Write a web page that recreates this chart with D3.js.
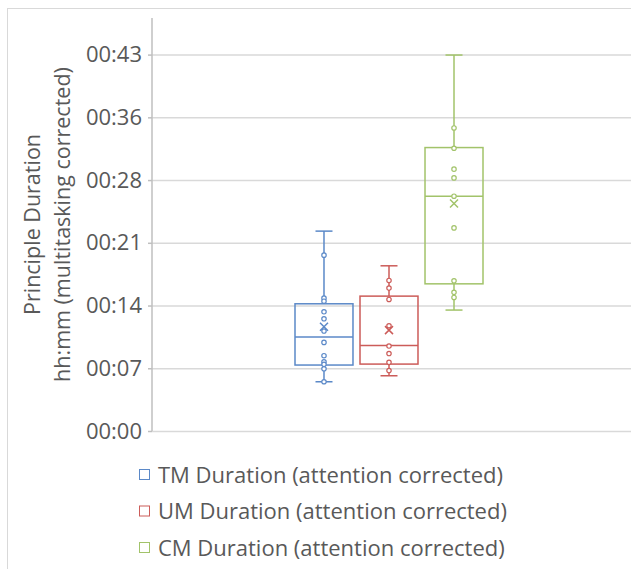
<!DOCTYPE html>
<html>
<head>
<meta charset="utf-8">
<script src="https://cdn.jsdelivr.net/npm/d3@7"></script>
<style>
  body { margin: 0; background: #fff; }
  svg { display: block; }
  text { font-family: "Open Sans", sans-serif; fill: #595959; }
</style>
</head>
<body>
<svg></svg>
<script>
// values in minutes
var series = ["TM Duration (attention corrected)", "UM Duration (attention corrected)", "CM Duration (attention corrected)"];
var colors = ["#5b89c8", "#cc5c59", "#a2c36a"];

var mins    = [5.65, 6.34, 13.88];
var q1s     = [7.57, 7.68, 16.89];
var medians = [10.78, 9.81, 26.95];
var q3s     = [14.6, 15.48, 32.53];
var maxs    = [22.94, 18.96, 43.15];
var means   = [11.96, 11.58, 26.11];

var tmPoints = [20.18, 15.25, 14.9, 13.68, 12.88, 11.47, 10.17, 8.64, 7.95, 7.65, 7.14, 5.65];
var umPoints = [17.28, 16.4, 15.1, 12.08, 9.75, 8.89, 7.88, 6.94];
var cmPoints = [34.78, 32.45, 30.05, 29.05, 26.95, 23.31, 17.24, 15.91, 15.33];
var points = [tmPoints, umPoints, cmPoints];

var tickValues = [0, 7.2, 14.4, 21.6, 28.8, 36, 43.2];
var tickLabels = ["00:00", "00:07", "00:14", "00:21", "00:28", "00:36", "00:43"];

var yTitle = ["Principle Duration", "hh:mm (multitasking corrected)"];

let width = 631;
let height = 569;
let svg = d3.select("svg").attr("width", width).attr("height", height);

let plot = { left: 152, right: 631, top: 18, bottom: 431 };

// chart border
svg.append("rect")
  .attr("x", 7.5).attr("y", 8.5)
  .attr("width", 800).attr("height", 800)
  .attr("fill", "none")
  .attr("stroke", "#d9d9d9");

let y = d3.scaleLinear().domain([0, 47.4]).range([plot.bottom, plot.top]);
let x = d3.scaleBand().domain(series).range([295, 483]).paddingInner(0.108);

// gridlines
svg.append("g")
  .attr("transform", `translate(${plot.left},0)`)
  .call(d3.axisRight(y).tickValues(tickValues).tickSize(plot.right - plot.left).tickFormat(""))
  .call(g => g.select(".domain").remove())
  .call(g => g.selectAll("line").attr("stroke", "#d9d9d9").attr("stroke-width", 1.5));

// y axis
let yAxis = svg.append("g")
  .attr("transform", `translate(${plot.left},0)`)
  .call(d3.axisLeft(y).tickValues(tickValues).tickSize(4).tickPadding(6)
    .tickFormat((d, i) => tickLabels[i]));
yAxis.select(".domain").attr("stroke", "#bfbfbf").attr("stroke-width", 1.5)
  .attr("d", `M0,${plot.top}V${plot.bottom}`);
yAxis.selectAll(".tick line").attr("stroke", "#bfbfbf").attr("stroke-width", 1.5);
yAxis.selectAll("text").attr("fill", "#595959").style("font-size", "22px")
  .attr("font-family", "Open Sans");

// axis title
svg.append("g")
  .attr("transform", `translate(0,${(plot.top + plot.bottom) / 2}) rotate(-90)`)
  .selectAll("text")
  .data(yTitle)
  .enter().append("text")
  .attr("x", 0)
  .attr("y", (d, i) => 40 + i * 30)
  .attr("text-anchor", "middle")
  .style("font-size", "21.5px")
  .text(d => d);

// boxes
let boxes = svg.append("g").attr("id", "boxes")
  .selectAll("g")
  .data(series)
  .enter().append("g");

let cx = d => x(d) + x.bandwidth() / 2;
let capW = 8.5;

boxes.each(function(d, i) {
  let g = d3.select(this);
  let c = cx(d);
  let col = colors[i];
  // whiskers
  g.append("line").attr("x1", c).attr("x2", c)
    .attr("y1", y(maxs[i])).attr("y2", y(q3s[i]));
  g.append("line").attr("x1", c).attr("x2", c)
    .attr("y1", y(q1s[i])).attr("y2", y(mins[i]));
  g.append("line").attr("x1", c - capW).attr("x2", c + capW)
    .attr("y1", y(maxs[i])).attr("y2", y(maxs[i]));
  g.append("line").attr("x1", c - capW).attr("x2", c + capW)
    .attr("y1", y(mins[i])).attr("y2", y(mins[i]));
  // box
  g.append("rect")
    .attr("x", x(d)).attr("width", x.bandwidth())
    .attr("y", y(q3s[i])).attr("height", y(q1s[i]) - y(q3s[i]))
    .attr("fill", "none");
  g.append("line").attr("x1", x(d)).attr("x2", x(d) + x.bandwidth())
    .attr("y1", y(medians[i])).attr("y2", y(medians[i]));
  // mean marker
  let my = y(means[i]);
  g.append("path")
    .attr("d", `M${c - 4},${my - 4}L${c + 4},${my + 4}M${c - 4},${my + 4}L${c + 4},${my - 4}`);
  // inner points
  g.selectAll("circle")
    .data(points[i])
    .enter().append("circle")
    .attr("cx", c)
    .attr("cy", v => y(v))
    .attr("r", 2.2)
    .attr("fill", "#fff")
    .attr("stroke-width", 1.2);
  g.selectAll("line, rect, path, circle")
    .attr("stroke", col);
  g.selectAll("line, rect, path").attr("stroke-width", 1.5);
});

// legend
let legend = svg.append("g").attr("id", "legend")
  .selectAll("g")
  .data(series)
  .enter().append("g")
  .attr("transform", (d, i) => `translate(139,${475 + i * 36.5})`);

legend.append("rect")
  .attr("x", 0.5).attr("y", -5.5)
  .attr("width", 10).attr("height", 10)
  .attr("fill", "#fff")
  .attr("stroke", (d, i) => colors[i]);

legend.append("text")
  .attr("x", 19)
  .attr("dy", "0.35em")
  .style("font-size", "22px")
  .text(d => d);
</script>
</body>
</html>
